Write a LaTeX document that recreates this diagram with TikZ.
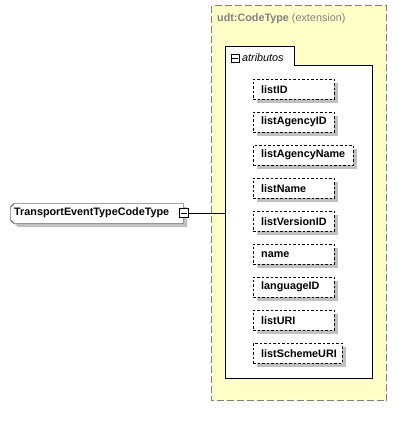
\documentclass[tikz,border=0pt]{standalone}
\usepackage{fontspec}
\setmainfont{Liberation Sans}
\usetikzlibrary{calc,shadows}
\definecolor{ybg}{HTML}{FFFFC8}
\definecolor{shd}{HTML}{C0C0C0}
\definecolor{bordergray}{HTML}{808080}
\newcommand{\lblfont}{\fontsize{10.8}{12}\selectfont}
\begin{document}
\begin{tikzpicture}[x=1pt,y=-1pt,
  attr/.style={draw=black, dash pattern=on 2.5pt off 2pt, fill=white, minimum height=20pt,
     anchor=north west, inner xsep=8pt, inner ysep=0pt, font=\lblfont\bfseries, text=black,
     drop shadow={shadow xshift=4pt, shadow yshift=-4pt, fill=shd, opacity=1, draw=none}},
  expander/.style={draw=black, fill=white, minimum size=9pt, inner sep=0pt},
]
\useasboundingbox (0,0) rectangle (411,429);
% extension box
\draw[bordergray, dash pattern=on 7pt off 3pt, fill=ybg] (211.5,5.5) rectangle (386.5,400.5);
\node[anchor=west, inner sep=0pt, text=bordergray, font=\lblfont] (ext) at (217,19) {\textbf{udt:CodeType} (extension)};
% attributes box
\draw[black, fill=white] (225.5,65.5) -- (225.5,46.5) -- (294.5,46.5) -- (294.5,65.5) -- (372.5,65.5) -- (372.5,378.5) -- (225.5,378.5) -- cycle;
\coordinate (grp) at (225.5,213);
\node[expander, minimum size=8pt] (gminus) at (235,58) {};
\draw ($(gminus.west)+(1.5pt,0)$) -- ($(gminus.east)+(-1.5pt,0)$);
\node[anchor=west, inner sep=0pt, font=\lblfont\itshape] (glabel) at (242,57.5) {atributos};
% attributes
\foreach \n/\t/\w [count=\i from 0] in {a1/listID/65,a2/listAgencyID/65,a3/listAgencyName/84,a4/listName/65,a5/listVersionID/65,a6/name/65,a7/languageID/65,a8/listURI/65,a9/listSchemeURI/73}{
  \node[attr] (\n) at (253,79+33*\i) {\makebox[\w pt][l]{\t}};
}
% main element
\fill[shd] (18,207) -- (187,207) -- (187,227) -- (18,227) -- (15,224) -- (15,210) -- cycle;
\draw[black, fill=white] (14,203.5) -- (183.5,203.5) -- (183.5,223.5) -- (14,223.5) -- (10.5,220) -- (10.5,207) -- cycle;
\node[anchor=west, inner sep=0pt, font=\lblfont\bfseries] (main) at (14,213) {TransportEventTypeCodeType};
\node[expander] (mexp) at (184,213) {};
\draw ($(mexp.west)+(2pt,0)$) -- ($(mexp.east)+(-2pt,0)$);
\draw (mexp.east) -- (grp);
\end{tikzpicture}
\end{document}
